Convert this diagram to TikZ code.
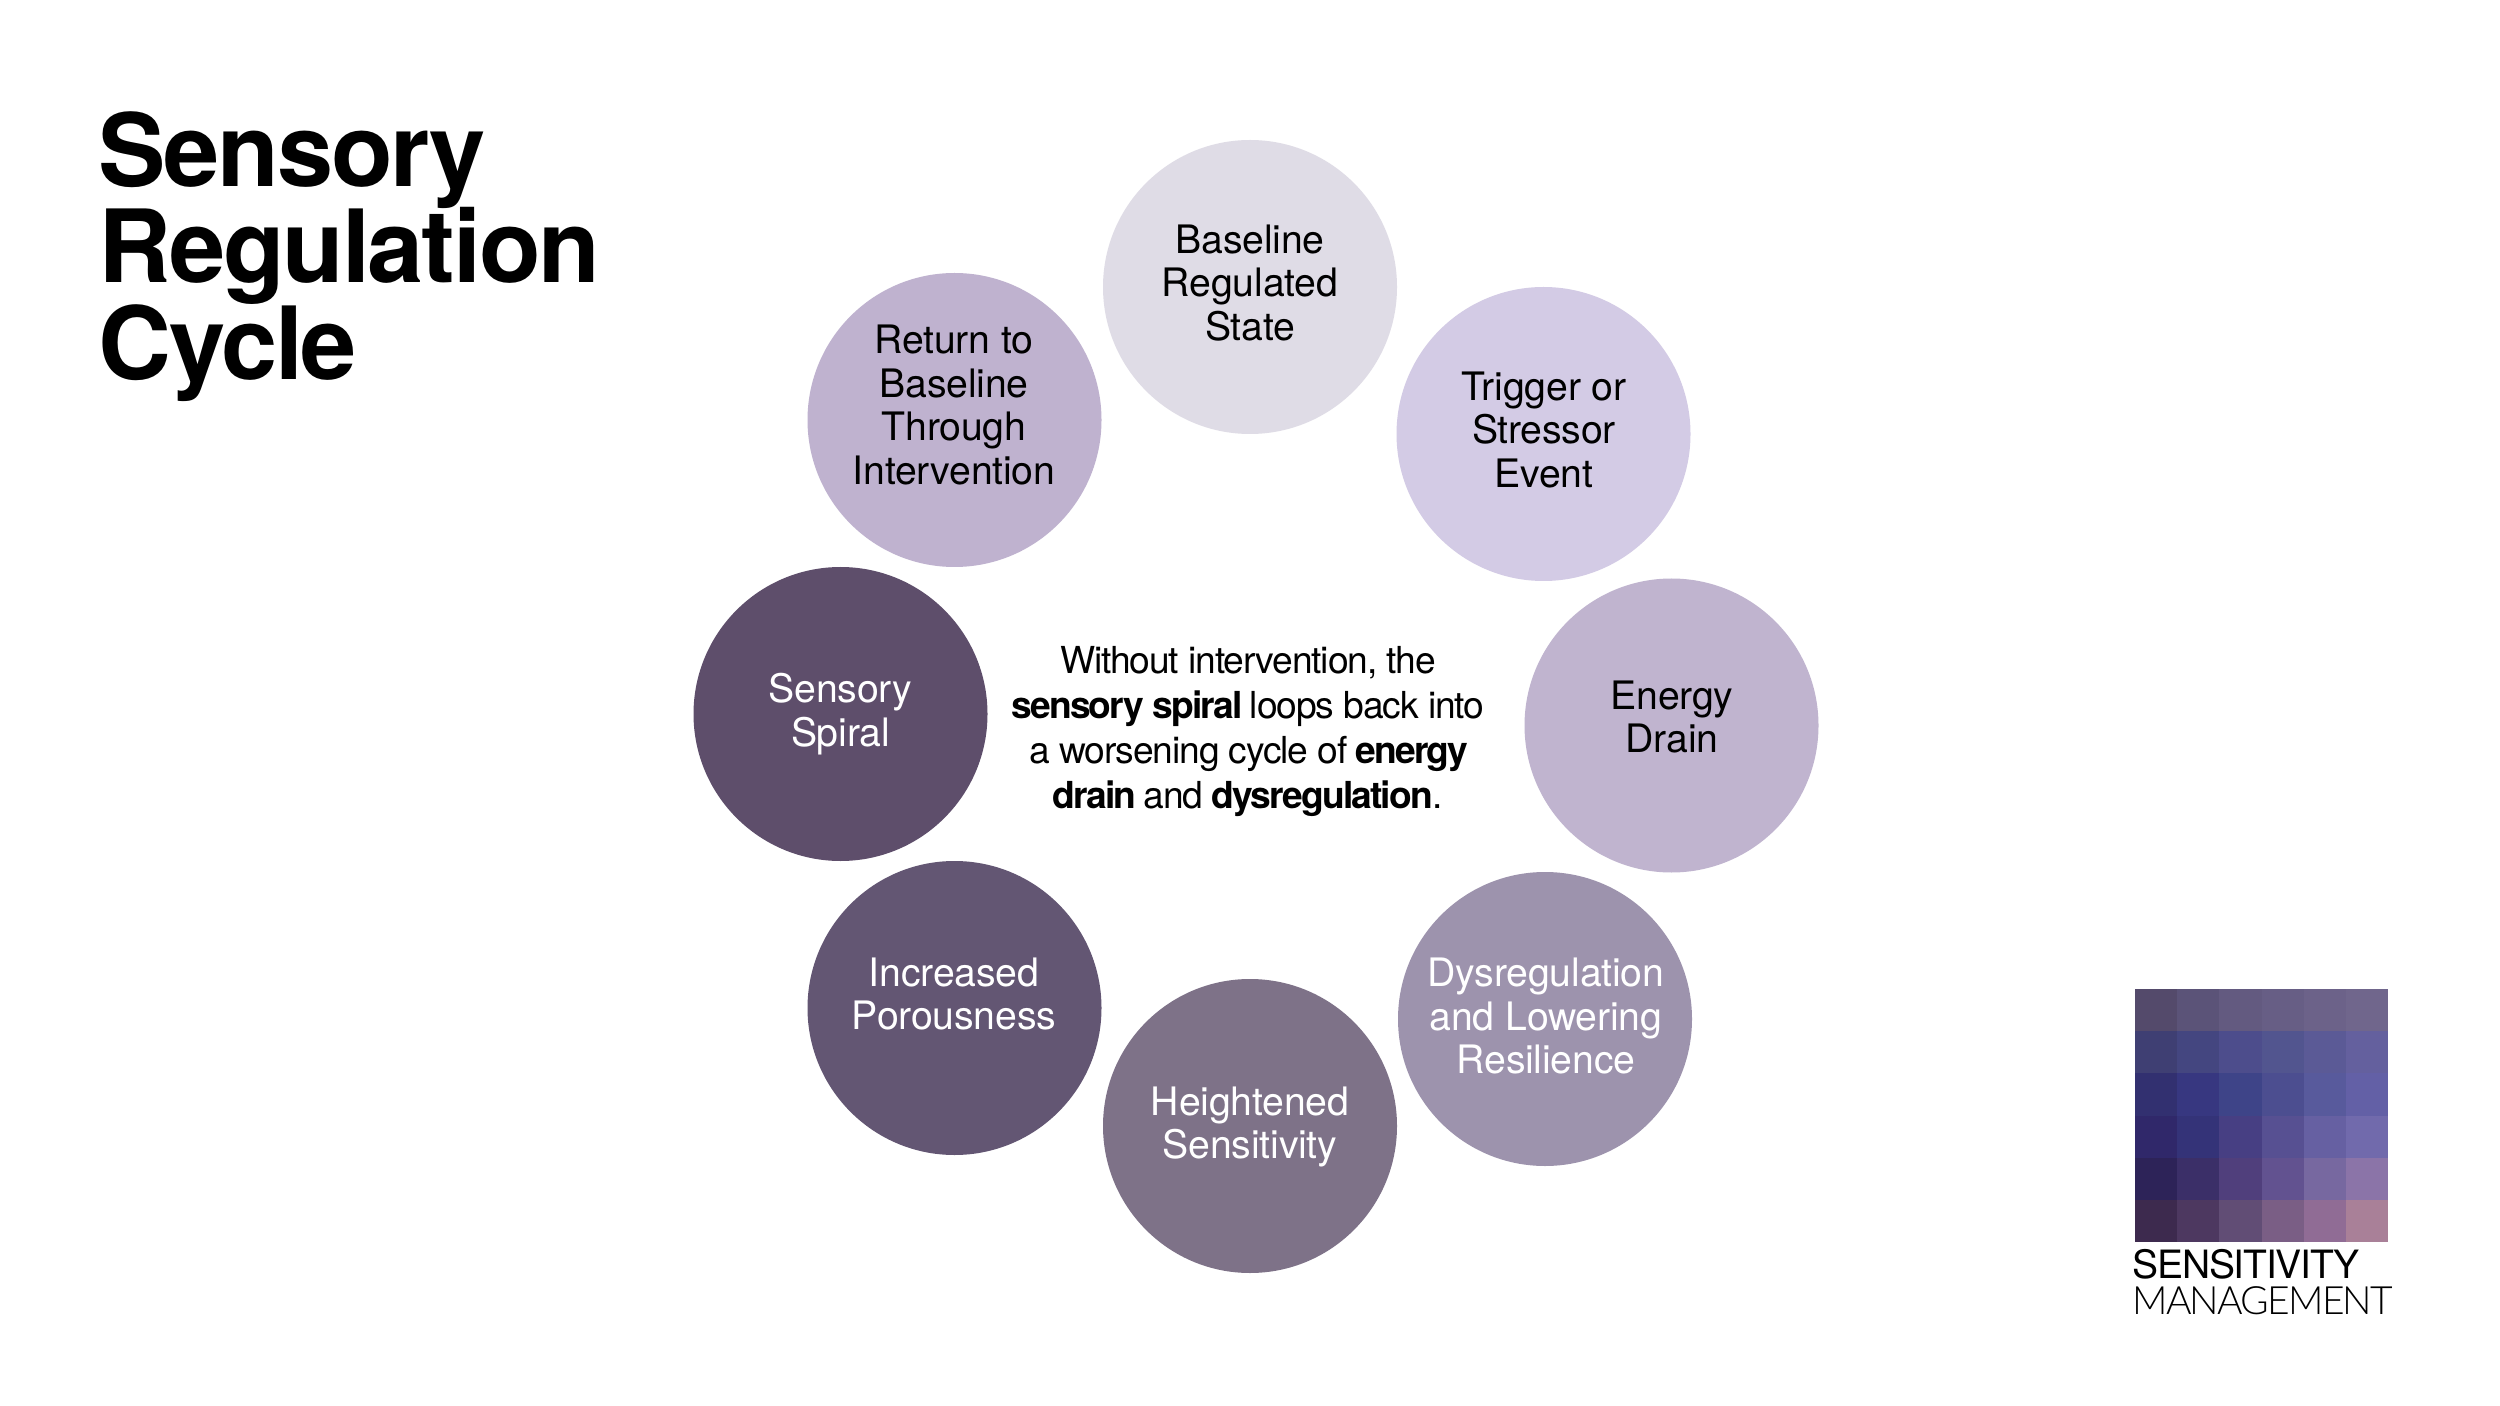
\documentclass[tikz,border=0pt]{standalone}
\usepackage{fontspec}
\setmainfont{TeX Gyre Heros}
\newfontfamily\titlef[LetterSpace=-2.2]{TeX Gyre Heros Bold}
\newfontfamily\bodyf[LetterSpace=-0.5]{TeX Gyre Heros}
\newfontfamily\centerf[LetterSpace=-3,BoldFont={TeX Gyre Heros Bold},BoldFeatures={LetterSpace=-5}]{TeX Gyre Heros}
\newfontfamily\logof[LetterSpace=-3.1]{TeX Gyre Heros}
\newfontfamily\logolight[LetterSpace=-4.6]{Lato Light}
\newcommand{\titlesetup}{\titlef\fontsize{50.5}{48.2}\selectfont\lineskiplimit=-60pt\relax}
\definecolor{cA}{HTML}{DFDCE6}
\definecolor{cB}{HTML}{D3CBE5}
\definecolor{cC}{HTML}{C0B4CF}
\definecolor{cD}{HTML}{9D93AD}
\definecolor{cE}{HTML}{7E7288}
\definecolor{cF}{HTML}{635673}
\definecolor{cG}{HTML}{5E4E6B}
\definecolor{cH}{HTML}{BFB2CF}
\tikzset{
  x=0.5pt,y=-0.5pt,
  disc/.style={circle,draw=none,minimum size=147pt,inner sep=0pt},
  lab/.style={align=center,inner sep=0pt,font=\bodyf\fontsize{19.6}{21.7}\selectfont},
}
\begin{document}
\begin{tikzpicture}
\useasboundingbox (0,0) rectangle (2500,1406);
\fill[white] (0,0) rectangle (2500,1406);
\node[anchor=north west,align=left,inner sep=0pt,font=\titlesetup] (title) at (98,111) {Sensory\\Regulation\\Cycle};
\node[disc,fill=cA] (a) at (1250,287) {};
\node[disc,fill=cB] (b) at (1543.5,434) {};
\node[disc,fill=cC] (c) at (1671.5,725.5) {};
\node[disc,fill=cD] (d) at (1545,1019) {};
\node[disc,fill=cE] (e) at (1250,1126) {};
\node[disc,fill=cF] (f) at (954.5,1008) {};
\node[disc,fill=cG] (g) at (840.5,714) {};
\node[disc,fill=cH] (h) at (954.5,420) {};
\node[lab] (ta) at (1250,283) {Baseline\\Regulated\\State};
\node[lab] (tb) at (1544,430) {Trigger or\\Stressor\\Event};
\node[lab] (tc) at (1672,717) {Energy\\Drain};
\node[lab,text=white] (td) at (1546,1016) {Dysregulation\\and Lowering\\Resilience};
\node[lab,text=white] (te) at (1250,1127) {Heightened\\Sensitivity};
\node[lab,text=white] (tf) at (954,994) {Increased\\Porousness};
\node[lab,text=white] (tg) at (840.5,714) {Sensory\\Spiral};
\node[lab] (th) at (954,405) {Return to\\Baseline\\Through\\Intervention};
\node[align=center,inner sep=0pt,font=\centerf\fontsize{18.6}{22.5}\selectfont] (mid) at (1248,732)
 {Without intervention, the\\\textbf{sensory spiral} loops back into\\a worsening cycle of \textbf{energy}\\\textbf{drain} and \textbf{dysregulation}.};
\foreach \col [count=\r from 0] in {
 {544A6B,5B5378,635A80,675E85,6C6289,70668C},
 {3F3F73,444680,4D4D8C,52558F,5B5A96,64609E},
 {323070,373780,3E4488,4C4E90,585A9C,6360A6},
 {30286A,343378,473F83,575092,6660A2,716AAC},
 {2D2358,3B2F68,503F7C,625290,7768A0,8B74A8},
 {3D2A4E,4D3860,614D75,7A5E85,906C95,A98098}}{
  \foreach \hx [count=\q from 0] in \col {
    \definecolor{tmpc}{HTML}{\hx}
    \fill[tmpc] ({2135+\q*42.2},{989+\r*42.2}) rectangle ++(42.4,42.4);
  }
}
\node[anchor=base west,inner sep=0pt,font=\logof\fontsize{19.5}{20}\selectfont] (l1) at (2132,1278) {SENSITIVITY};
\node[anchor=base west,inner sep=0pt,font=\logolight\fontsize{19.5}{20}\selectfont] (l2) at (2132,1314) {MANAGEMENT};
\end{tikzpicture}
\end{document}
